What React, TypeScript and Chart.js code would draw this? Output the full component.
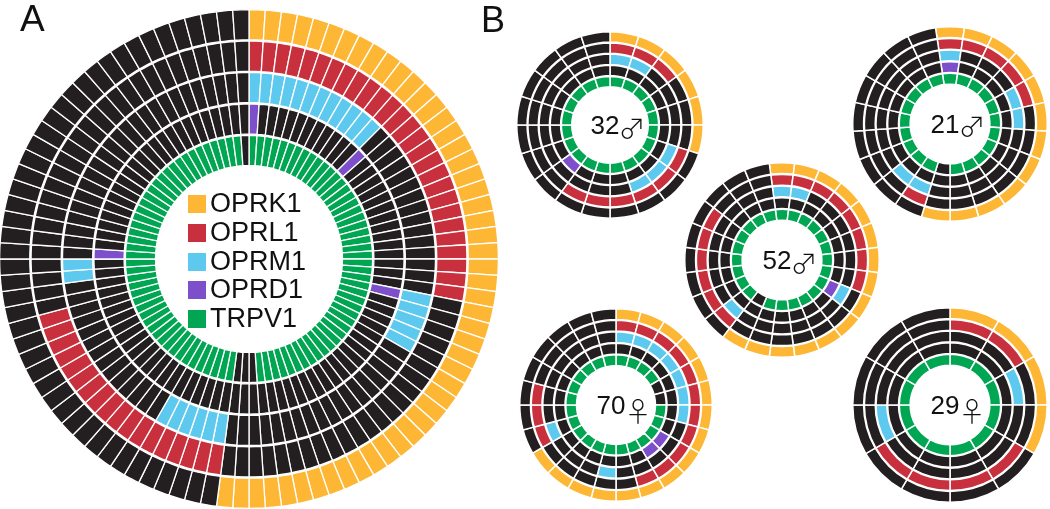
import React, { useEffect, useRef } from "react";
import { Chart, registerables } from "chart.js";
Chart.register(...registerables);

const GENES = ["OPRK1", "OPRL1", "OPRM1", "OPRD1", "TRPV1"];
const GENE_COLORS = ["#FDB735", "#C9303E", "#5DC9EE", "#7E4FCB", "#00A652"];
const OFF_COLOR = "#231F20";

// Panel A: one character per cell (1 = expressed), clockwise from 12 o'clock
const A_OPRK1 = "111111111111 111111111111 111111111111 111111111111 110000000000 000000000000 000000000000 000000000000";
const A_OPRL1 = "111111111111 111111111111 111000000000 000000000000 001111111111 111111110000 000000000000 000000000000";
const A_OPRM1 = "111111111111 000000000000 000111110000 000000000000 001111110000 000000000011 000000000000 000000000000";
const A_OPRD1 = "100000000000 100000000000 000100000000 000000000000 000000000000 000000000000 100000000000 000000000000";
const A_TRPV1 = "111111111111 111111111111 111111111111 111111111110 001111111111 111111111111 111111111111 111111111110";

// Panel B donors
const B32_OPRK1 = "11111100000000000000";
const B32_OPRL1 = "11100011111100000000";
const B32_OPRM1 = "11000011100000000000";
const B32_OPRD1 = "00000000000010000000";
const B32_TRPV1 = "11111111111111111111";

const B21_OPRK1 = "111111111111000000000";
const B21_OPRL1 = "111110000000100000000";
const B21_OPRM1 = "100011000000110000000";
const B21_OPRD1 = "100000000000000000000";
const B21_TRPV1 = "111111111110111111111";

const B52_OPRK1 = "111111111111111000000000";
const B52_OPRL1 = "111111110000000111111000";
const B52_OPRM1 = "110000001000000100000000";
const B52_OPRD1 = "000000001000000000000000";
const B52_TRPV1 = "111111111111110111111111";

const B70_OPRK1 = "111111111111111100000000";
const B70_OPRL1 = "111111111110000011100000";
const B70_OPRM1 = "111111100000100010000000";
const B70_OPRD1 = "000000001100000000000000";
const B70_TRPV1 = "111100111111111111111111";

const B29_OPRK1 = "111100000000";
const B29_OPRL1 = "110011110000";
const B29_OPRM1 = "001000001000";
const B29_OPRD1 = "000000000000";
const B29_TRPV1 = "111111111111";

const DONOR_AGES = ["32", "21", "52", "70", "29"];
const DONOR_SEX = ["\u2642", "\u2642", "\u2642", "\u2640", "\u2640"];

type RingProps = {
  rows: string[];
  cx: number;
  cy: number;
  r: number;
  hole: number;
  rotation: number;
  bw: number;
  gap: number;
};

function parse(s: string): number[] {
  return s.replace(/\s+/g, "").split("").map((c) => (c === "1" ? 1 : 0));
}

function RingChart({ rows, cx, cy, r, hole, rotation, bw, gap }: RingProps) {
  const ref = useRef<HTMLCanvasElement>(null);
  const S = Math.round(2 * r + bw);
  useEffect(() => {
    if (!ref.current) return;
    const ringT = (r - hole - gap * (rows.length - 1)) / rows.length;
    const datasets: any[] = [];
    rows.forEach((row, gi) => {
      if (gi > 0) {
        datasets.push({
          data: [1],
          backgroundColor: ["rgba(255,255,255,0)"],
          borderWidth: 0,
          hoverBorderWidth: 0,
          weight: gap / ringT,
        });
      }
      const flags = parse(row);
      datasets.push({
        label: GENES[gi],
        data: flags.map(() => 1),
        backgroundColor: flags.map((f) => (f ? GENE_COLORS[gi] : OFF_COLOR)),
        borderColor: "#ffffff",
        borderWidth: bw,
        hoverBorderWidth: bw,
        weight: 1,
      });
    });
    const chart = new Chart(ref.current, {
      type: "doughnut",
      data: { labels: parse(rows[0]).map((_, i) => "cell " + (i + 1)), datasets },
      options: {
        responsive: false,
        animation: false,
        devicePixelRatio: 1,
        rotation,
        cutout: (hole / r) * 100 + "%",
        layout: { padding: 0 },
        events: [],
        plugins: { legend: { display: false }, tooltip: { enabled: false } },
      } as any,
    });
    return () => chart.destroy();
  }, []);
  return (
    <canvas
      ref={ref}
      width={S}
      height={S}
      style={{ position: "absolute", left: cx - S / 2, top: cy - S / 2, width: S, height: S }}
    />
  );
}

const FONT = "'Liberation Sans', Arial, Helvetica, sans-serif";

function CenterLabel({ cx, cy, age, sex }: { cx: number; cy: number; age: string; sex: string }) {
  return (
    <div
      style={{
        position: "absolute",
        left: cx - 60,
        top: cy - 20,
        width: 120,
        height: 40,
        display: "flex",
        alignItems: "center",
        justifyContent: "center",
        fontFamily: FONT,
        fontSize: 26,
        color: "#111",
        lineHeight: 1,
        whiteSpace: "nowrap",
      }}
    >
      <span>{age}</span>
      <span
        style={{
          fontFamily: "'Noto Sans CJK JP', 'Noto Sans CJK SC', 'DejaVu Sans', sans-serif",
          fontSize: 27,
          fontWeight: 300,
          marginLeft: -1,
          position: "relative",
          top: sex === "\u2640" ? 5 : 2,
        }}
      >
        {sex}
      </span>
    </div>
  );
}

export default function App() {
  useEffect(() => {
    document.body.style.margin = "0";
  }, []);
  const legendBase = [213, 241.5, 270.5, 299, 327.5];
  const donors = [
    { rows: [B32_OPRK1, B32_OPRL1, B32_OPRM1, B32_OPRD1, B32_TRPV1], cx: 610, cy: 125, r: 93, rot: 0 },
    { rows: [B21_OPRK1, B21_OPRL1, B21_OPRM1, B21_OPRD1, B21_TRPV1], cx: 950, cy: 123.5, r: 97, rot: -180 / 21 },
    { rows: [B52_OPRK1, B52_OPRL1, B52_OPRM1, B52_OPRD1, B52_TRPV1], cx: 782, cy: 260, r: 97, rot: -7.5 },
    { rows: [B70_OPRK1, B70_OPRL1, B70_OPRM1, B70_OPRD1, B70_TRPV1], cx: 616, cy: 405, r: 96, rot: 0 },
    { rows: [B29_OPRK1, B29_OPRL1, B29_OPRM1, B29_OPRD1, B29_TRPV1], cx: 950, cy: 405, r: 97, rot: 0 },
  ];
  return (
    <div style={{ position: "relative", width: 1050, height: 509, background: "#fff", overflow: "hidden" }}>
      <RingChart
        rows={[A_OPRK1, A_OPRL1, A_OPRM1, A_OPRD1, A_TRPV1]}
        cx={249}
        cy={258.5}
        r={249.5}
        hole={93.5}
        rotation={0}
        bw={1.3}
        gap={1.3}
      />
      {donors.map((d, i) => (
        <React.Fragment key={i}>
          <RingChart rows={d.rows} cx={d.cx} cy={d.cy} r={d.r} hole={d.r * 0.41} rotation={d.rot} bw={1.5} gap={0.8} />
          <CenterLabel cx={d.cx + 8} cy={d.cy} age={DONOR_AGES[i]} sex={DONOR_SEX[i]} />
        </React.Fragment>
      ))}
      {GENES.map((g, i) => (
        <React.Fragment key={g}>
          <div
            style={{
              position: "absolute",
              left: 188,
              top: legendBase[i] - 18,
              width: 18,
              height: 18,
              background: GENE_COLORS[i],
            }}
          />
          <div
            style={{
              position: "absolute",
              left: 210,
              top: legendBase[i] - 0.8465 * 27,
              fontFamily: FONT,
              fontSize: 27,
              lineHeight: 1,
              color: "#111",
              whiteSpace: "nowrap",
            }}
          >
            {g}
          </div>
        </React.Fragment>
      ))}
      <div style={{ position: "absolute", left: 20, top: 0, fontFamily: FONT, fontSize: 37, lineHeight: 1, color: "#111" }}>A</div>
      <div style={{ position: "absolute", left: 481, top: 2, fontFamily: FONT, fontSize: 36, lineHeight: 1, color: "#111" }}>B</div>
    </div>
  );
}
